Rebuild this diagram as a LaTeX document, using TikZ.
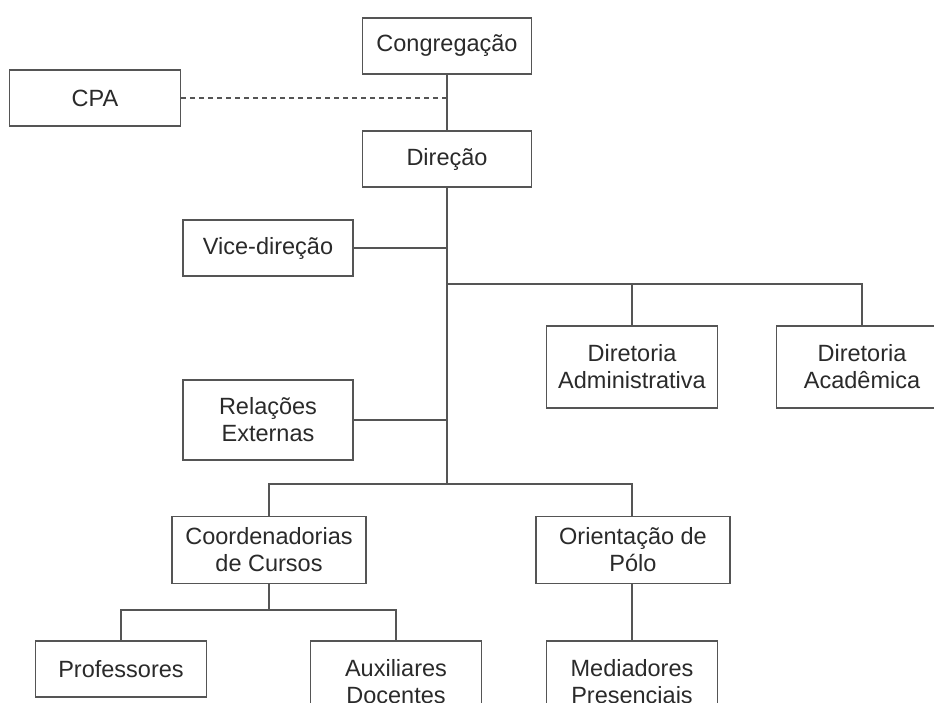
\documentclass[tikz,border=0pt]{standalone}
\usepackage{fontspec}
\setmainfont{Liberation Sans}
\usepackage{tikz}

\definecolor{linegray}{HTML}{555555}
\definecolor{textgray}{HTML}{2A2A2A}

\tikzset{
  orgbox/.style={draw=linegray, line width=1.1pt, fill=white, text=textgray,
    align=center, inner sep=0pt,
    font=\fontsize{23.5}{27}\selectfont},
  orgline/.style={draw=linegray, line width=1.1pt}
}

\begin{document}
\begin{tikzpicture}[x=1pt,y=-1pt]
\useasboundingbox (0,0) rectangle (934,702);
\fill[white] (0,0) rectangle (934,702);
\clip (0,0) rectangle (934,702);

% top levels
\node[orgbox, minimum width=169pt, minimum height=56pt] (cong) at (447,46) {Congrega\c{c}\~ao};
\node[orgbox, minimum width=171pt, minimum height=56pt] (cpa) at (95,98) {CPA};
\node[orgbox, minimum width=169pt, minimum height=56pt] (dir) at (447,159) {Dire\c{c}\~ao};
\node[orgbox, minimum width=170pt, minimum height=56pt] (vice) at (268,248) {Vice-dire\c{c}\~ao};

% directorates
\node[orgbox, minimum width=171pt, minimum height=82pt] (radm) at (632,367) {Diretoria\\Administrativa};
\node[orgbox, minimum width=171pt, minimum height=82pt] (racad) at (862,367) {Diretoria\\Acad\^emica};
\node[orgbox, minimum width=170pt, minimum height=80pt] (relext) at (268,420) {Rela\c{c}\~oes\\Externas};

% coordination
\node[orgbox, minimum width=194pt, minimum height=67pt] (coord) at (269,550) {Coordenadorias\\de Cursos};
\node[orgbox, minimum width=194pt, minimum height=67pt] (orient) at (633,550) {Orienta\c{c}\~ao de\\P\'olo};

% bottom level
\node[orgbox, minimum width=171pt, minimum height=56pt] (prof) at (121,669) {Professores};
\node[orgbox, minimum width=171pt, minimum height=82pt] (aux) at (396,682) {Auxiliares\\Docentes};
\node[orgbox, minimum width=171pt, minimum height=82pt] (med) at (632,682) {Mediadores\\Presenciais};

\coordinate (j1) at (447,284);
\coordinate (j2) at (447,484);
\coordinate (j3) at (269,610);

% connectors
\draw[orgline] (cong) -- (dir);
\draw[orgline, dash pattern=on 5pt off 4pt] (cpa.east) -- (cpa.east -| cong.south);
\draw[orgline] (dir.south) -- (j2);
\draw[orgline] (vice.east) -- (vice.east -| dir.south);
\draw[orgline] (relext.east) -- (relext.east -| dir.south);
\draw[orgline] (j1) -| (racad.north);
\draw[orgline] (radm.north) -- (radm.north |- j1);
\draw[orgline] (coord.north) |- (med.north |- j2) -- (med.north |- orient.north);
\draw[orgline] (coord.south) -- (j3);
\draw[orgline] (prof.north) |- (aux.north |- j3) -- (aux.north);
\draw[orgline] (med.north |- orient.south) -- (med.north);
\end{tikzpicture}
\end{document}
